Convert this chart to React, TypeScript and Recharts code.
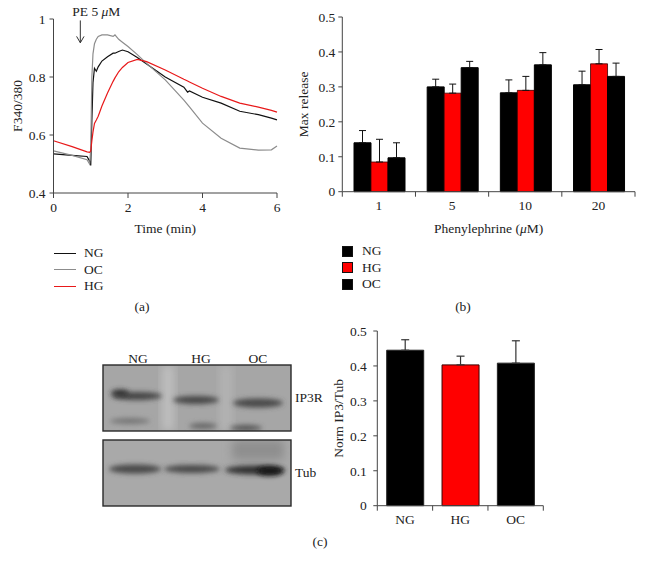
import React from "react";
import {
  Bar,
  BarChart,
  Cell,
  ErrorBar,
  Legend,
  Line,
  LineChart,
  ReferenceDot,
  ReferenceLine,
  XAxis,
  YAxis,
} from "recharts";

document.body.style.margin = "0";

// (a) calcium traces, F340/380 vs time (min)
const TIME = [0, 0.5, 0.9, 0.97, 1.0, 1.03, 1.06, 1.1, 1.15, 1.2, 1.3, 1.45, 1.6, 1.65, 1.75, 1.85, 2, 2.25, 2.5, 3, 3.5, 3.6, 3.65, 4, 4.5, 5, 5.5, 5.85, 6];
const NG_TRACE = [0.535, 0.53, 0.526, 0.51, 0.495, 0.65, 0.78, 0.83, 0.82, 0.835, 0.855, 0.87, 0.882, 0.882, 0.888, 0.893, 0.887, 0.867, 0.845, 0.8, 0.765, 0.748, 0.752, 0.73, 0.71, 0.682, 0.67, 0.658, 0.652];
const OC_TRACE = [0.545, 0.53, 0.515, 0.5, 0.55, 0.8, 0.88, 0.915, 0.93, 0.94, 0.945, 0.945, 0.94, 0.945, 0.93, 0.92, 0.905, 0.877, 0.847, 0.79, 0.72, 0.705, 0.697, 0.641, 0.589, 0.555, 0.548, 0.549, 0.562];
const HG_TRACE = [0.58, 0.56, 0.542, 0.54, 0.545, 0.58, 0.61, 0.64, 0.652, 0.665, 0.7, 0.745, 0.785, 0.797, 0.818, 0.833, 0.85, 0.861, 0.853, 0.824, 0.792, 0.786, 0.783, 0.761, 0.733, 0.71, 0.696, 0.685, 0.679];

// (b) max release by phenylephrine dose
const DOSES = ["1", "5", "10", "20"];
const NG_MAX = [0.14, 0.3, 0.283, 0.306];
const NG_MAX_ERR = [0.035, 0.022, 0.037, 0.039];
const HG_MAX = [0.085, 0.282, 0.29, 0.366];
const HG_MAX_ERR = [0.065, 0.026, 0.04, 0.041];
const OC_MAX = [0.097, 0.355, 0.363, 0.33];
const OC_MAX_ERR = [0.043, 0.018, 0.035, 0.038];

// (c) IP3R normalised to tubulin
const GROUPS = ["NG", "HG", "OC"];
const IP3_MEAN = [0.445, 0.403, 0.408];
const IP3_ERR = [0.03, 0.025, 0.064];

const FONT = "'Liberation Serif', 'Times New Roman', Tinos, serif";
const INK = "#222";
const AXIS = "#444";
const RED = "#ff0000";

const tick = { fill: INK, fontFamily: FONT, fontSize: 13.5 };
const labelStyle = { fill: INK, fontFamily: FONT, fontSize: 13.5, textAnchor: "middle" as const };

const traceData = TIME.map((t, i) => ({ t, NG: NG_TRACE[i], OC: OC_TRACE[i], HG: HG_TRACE[i] }));
const doseData = DOSES.map((dose, i) => ({
  dose,
  NG: NG_MAX[i],
  NGerr: [0, NG_MAX_ERR[i]],
  HG: HG_MAX[i],
  HGerr: [0, HG_MAX_ERR[i]],
  OC: OC_MAX[i],
  OCerr: [0, OC_MAX_ERR[i]],
}));
const ip3Data = GROUPS.map((g, i) => ({ g, v: IP3_MEAN[i], err: [0, IP3_ERR[i]] }));

const TRACE_SERIES = [
  { key: "NG", color: "#111" },
  { key: "OC", color: "#8c8c8c" },
  { key: "HG", color: "#e8191a" },
];
const DOSE_SERIES = [
  { key: "NG", color: "#000" },
  { key: "HG", color: RED },
  { key: "OC", color: "#000" },
];

function LineLegend() {
  return (
    <div style={{ fontFamily: FONT, fontSize: 13.5, color: INK }}>
      {TRACE_SERIES.map((s) => (
        <div key={s.key} style={{ display: "flex", alignItems: "center", height: 16.5 }}>
          <span style={{ width: 22, height: 0, borderTop: `1.3px solid ${s.color}`, marginRight: 8 }} />
          {s.key}
        </div>
      ))}
    </div>
  );
}

function BoxLegend() {
  return (
    <div style={{ fontFamily: FONT, fontSize: 13.5, color: INK }}>
      {DOSE_SERIES.map((s) => (
        <div key={s.key} style={{ display: "flex", alignItems: "center", height: 16.5 }}>
          <span
            style={{
              width: 9,
              height: 9,
              background: s.color,
              border: "1px solid #111",
              marginRight: 9,
            }}
          />
          {s.key}
        </div>
      ))}
    </div>
  );
}

// category tick: label at the band centre, tick mark on the band edges
function EdgeTick({ x, y, payload, index, visibleTicksCount }: any) {
  const half = payload?.offset ?? 0;
  const top = y - 9;
  const last = index === visibleTicksCount - 1;
  return (
    <g>
      <line x1={x - half} x2={x - half} y1={top} y2={top + 5} stroke={AXIS} />
      {last && <line x1={x + half} x2={x + half} y1={top} y2={top + 5} stroke={AXIS} />}
      <text x={x} y={y} dy="0.71em" textAnchor="middle" fontFamily={FONT} fontSize={13.5} fill={INK}>
        {payload?.value}
      </text>
    </g>
  );
}

function PeLabel({ viewBox }: any) {
  if (!viewBox) return null;
  return (
    <text x={viewBox.x + 17} y={viewBox.y - 2} textAnchor="middle" fontFamily={FONT} fontSize={13.5} fill={INK}>
      PE 5 <tspan fontStyle="italic">μ</tspan>M
    </text>
  );
}

function DoseLabel({ viewBox }: any) {
  if (!viewBox) return null;
  return (
    <text x={viewBox.x + viewBox.width / 2} y={viewBox.y + 41} textAnchor="middle" fontFamily={FONT} fontSize={13.5} fill={INK}>
      Phenylephrine (<tspan fontStyle="italic">μ</tspan>M)
    </text>
  );
}

function Caption({ text, x, y }: { text: string; x: number; y: number }) {
  return (
    <div
      style={{
        position: "absolute",
        left: x - 20,
        top: y - 9,
        width: 40,
        textAlign: "center",
        fontFamily: FONT,
        fontSize: 13.5,
        color: INK,
      }}
    >
      {text}
    </div>
  );
}

function Blot() {
  return (
    <svg width={235} height={180} style={{ position: "absolute", left: 100, top: 340 }}>
      <defs>
        <filter id="soft" x="-30%" y="-100%" width="160%" height="300%">
          <feGaussianBlur stdDeviation="2.4" />
        </filter>
        <filter id="wide" x="-30%" y="-100%" width="160%" height="300%">
          <feGaussianBlur stdDeviation="5" />
        </filter>
        <clipPath id="blotTop">
          <rect x={3} y={25} width={188} height={66} />
        </clipPath>
        <clipPath id="blotBot">
          <rect x={3} y={100} width={188} height={66} />
        </clipPath>
      </defs>
      {["NG", "HG", "OC"].map((s, i) => (
        <text key={s} x={[38, 101, 158][i]} y={23} textAnchor="middle" fontFamily={FONT} fontSize={13.5} fill={INK}>
          {s}
        </text>
      ))}
      <g clipPath="url(#blotTop)">
        <rect x={3} y={25} width={188} height={66} fill="#a6a6a6" />
        <rect x={62} y={25} width={12} height={66} fill="#c0c0c0" filter="url(#wide)" />
        <rect x={120} y={25} width={12} height={66} fill="#b4b4b4" filter="url(#wide)" />
        <ellipse cx={37} cy={56} rx={25} ry={4} fill="#444" filter="url(#soft)" />
        <ellipse cx={20} cy={53} rx={9} ry={3.5} fill="#333" filter="url(#soft)" />
        <ellipse cx={96} cy={60} rx={23} ry={4} fill="#464646" filter="url(#soft)" />
        <ellipse cx={158} cy={63} rx={25} ry={4.5} fill="#4a4a4a" filter="url(#soft)" />
        <ellipse cx={30} cy={81} rx={20} ry={3} fill="#767676" filter="url(#soft)" />
        <ellipse cx={103} cy={86} rx={14} ry={3} fill="#666" filter="url(#soft)" />
        <ellipse cx={146} cy={88} rx={16} ry={3} fill="#555" filter="url(#soft)" />
      </g>
      <rect x={3} y={25} width={188} height={66} fill="none" stroke="#2a2a2a" strokeWidth={1.4} />
      <g clipPath="url(#blotBot)">
        <rect x={3} y={100} width={188} height={66} fill="#a9a9a9" />
        <rect x={132} y={100} width={52} height={20} fill="#8e8e8e" filter="url(#wide)" />
        <ellipse cx={35} cy={129} rx={26} ry={4.5} fill="#484848" filter="url(#soft)" />
        <ellipse cx={92} cy={129} rx={28} ry={4} fill="#4a4a4a" filter="url(#soft)" />
        <ellipse cx={155} cy={130} rx={30} ry={4.5} fill="#333" filter="url(#soft)" />
        <ellipse cx={170} cy={131} rx={13} ry={4.5} fill="#151515" filter="url(#soft)" />
      </g>
      <rect x={3} y={100} width={188} height={66} fill="none" stroke="#2a2a2a" strokeWidth={1.4} />
      <text x={195} y={62} fontFamily={FONT} fontSize={13.5} fill={INK}>
        IP3R
      </text>
      <text x={195} y={137} fontFamily={FONT} fontSize={13.5} fill={INK}>
        Tub
      </text>
    </svg>
  );
}

export default function App() {
  return (
    <div style={{ position: "relative", width: 646, height: 570, background: "#fff", overflow: "hidden" }}>
      {/* (a) */}
      <div style={{ position: "absolute", left: 0, top: 0 }}>
        <LineChart width={290} height={300} data={traceData} margin={{ top: 19, right: 13, left: 0, bottom: 62 }}>
          <XAxis
            dataKey="t"
            type="number"
            domain={[0, 6]}
            ticks={[0, 2, 4, 6]}
            height={45}
            tickSize={5}
            tickMargin={4}
            tick={tick}
            axisLine={{ stroke: AXIS }}
            tickLine={{ stroke: AXIS }}
            label={{ value: "Time (min)", position: "insideBottom", offset: 5, style: labelStyle }}
          />
          <YAxis
            type="number"
            domain={[0.4, 1]}
            ticks={[0.4, 0.6, 0.8, 1]}
            width={53.5}
            tickSize={4}
            tickMargin={4}
            tick={tick}
            axisLine={{ stroke: AXIS }}
            tickLine={{ stroke: AXIS }}
            label={{ value: "F340/380", angle: -90, position: "insideLeft", offset: 17, style: labelStyle }}
          />
          {TRACE_SERIES.map((s) => (
            <Line
              key={s.key}
              dataKey={s.key}
              name={s.key}
              type="linear"
              stroke={s.color}
              strokeWidth={1.2}
              dot={false}
              isAnimationActive={false}
            />
          ))}
          <ReferenceLine segment={[{ x: 0.72, y: 0.995 }, { x: 0.72, y: 0.918 }]} stroke="#333" ifOverflow="visible" />
          <ReferenceLine segment={[{ x: 0.62, y: 0.94 }, { x: 0.72, y: 0.918 }]} stroke="#333" ifOverflow="visible" />
          <ReferenceLine segment={[{ x: 0.82, y: 0.94 }, { x: 0.72, y: 0.918 }]} stroke="#333" ifOverflow="visible" />
          <ReferenceDot x={0.72} y={1} r={1} fill="none" stroke="none" ifOverflow="visible" label={{ content: PeLabel }} />
          <Legend
            layout="vertical"
            align="center"
            verticalAlign="middle"
            wrapperStyle={{ left: 54, top: 245 }}
            content={LineLegend}
          />
        </LineChart>
      </div>
      <Caption text="(a)" x={142} y={308} />

      {/* (b) */}
      <div style={{ position: "absolute", left: 290, top: 0 }}>
        <BarChart
          width={356}
          height={300}
          data={doseData}
          margin={{ top: 17, right: 11, left: 0, bottom: 62 }}
          barCategoryGap="16%"
          barGap={0}
        >
          <XAxis
            dataKey="dose"
            height={46.3}
            tickLine={false}
            tickSize={5}
            tickMargin={4}
            tick={<EdgeTick />}
            axisLine={{ stroke: AXIS }}
            label={{ content: DoseLabel }}
          />
          <YAxis
            type="number"
            domain={[0, 0.5]}
            ticks={[0, 0.1, 0.2, 0.3, 0.4, 0.5]}
            width={52.3}
            tickSize={4}
            tickMargin={3}
            tick={tick}
            axisLine={{ stroke: AXIS }}
            tickLine={{ stroke: AXIS }}
            label={{ value: "Max release", angle: -90, position: "insideLeft", offset: 13, style: labelStyle }}
          />
          <Bar dataKey="NG" name="NG" fill="#000" stroke="#000" isAnimationActive={false}>
            <ErrorBar dataKey="NGerr" width={3.5} stroke="#111" strokeWidth={1} />
          </Bar>
          <Bar dataKey="HG" name="HG" fill={RED} stroke="#3a0000" strokeWidth={0.8} isAnimationActive={false}>
            <ErrorBar dataKey="HGerr" width={3.5} stroke="#111" strokeWidth={1} />
          </Bar>
          <Bar dataKey="OC" name="OC" fill="#000" stroke="#000" isAnimationActive={false}>
            <ErrorBar dataKey="OCerr" width={3.5} stroke="#111" strokeWidth={1} />
          </Bar>
          <Legend
            layout="vertical"
            align="center"
            verticalAlign="middle"
            wrapperStyle={{ left: 52, top: 243 }}
            content={BoxLegend}
          />
        </BarChart>
      </div>
      <Caption text="(b)" x={463} y={308} />

      {/* (c) */}
      <Blot />
      <div style={{ position: "absolute", left: 320, top: 320 }}>
        <BarChart
          width={240}
          height={216}
          data={ip3Data}
          margin={{ top: 11, right: 16.7, left: 0, bottom: 0 }}
          barCategoryGap="17%"
        >
          <XAxis
            dataKey="g"
            height={30.3}
            tickLine={false}
            tickSize={5}
            tickMargin={4}
            tick={<EdgeTick />}
            axisLine={{ stroke: AXIS }}
          />
          <YAxis
            type="number"
            domain={[0, 0.5]}
            ticks={[0, 0.1, 0.2, 0.3, 0.4, 0.5]}
            width={57.3}
            tickSize={4}
            tickMargin={6.5}
            tick={tick}
            axisLine={{ stroke: AXIS }}
            tickLine={{ stroke: AXIS }}
            label={{ value: "Norm IP3/Tub", angle: -90, position: "insideLeft", offset: 18, style: labelStyle }}
          />
          <Bar dataKey="v" isAnimationActive={false} strokeWidth={1}>
            {ip3Data.map((d) => (
              <Cell key={d.g} fill={d.g === "HG" ? RED : "#000"} stroke={d.g === "HG" ? "#3a0000" : "#222"} />
            ))}
            <ErrorBar dataKey="err" width={4} stroke="#333" strokeWidth={1.2} />
          </Bar>
        </BarChart>
      </div>
      <Caption text="(c)" x={320} y={543} />
    </div>
  );
}
